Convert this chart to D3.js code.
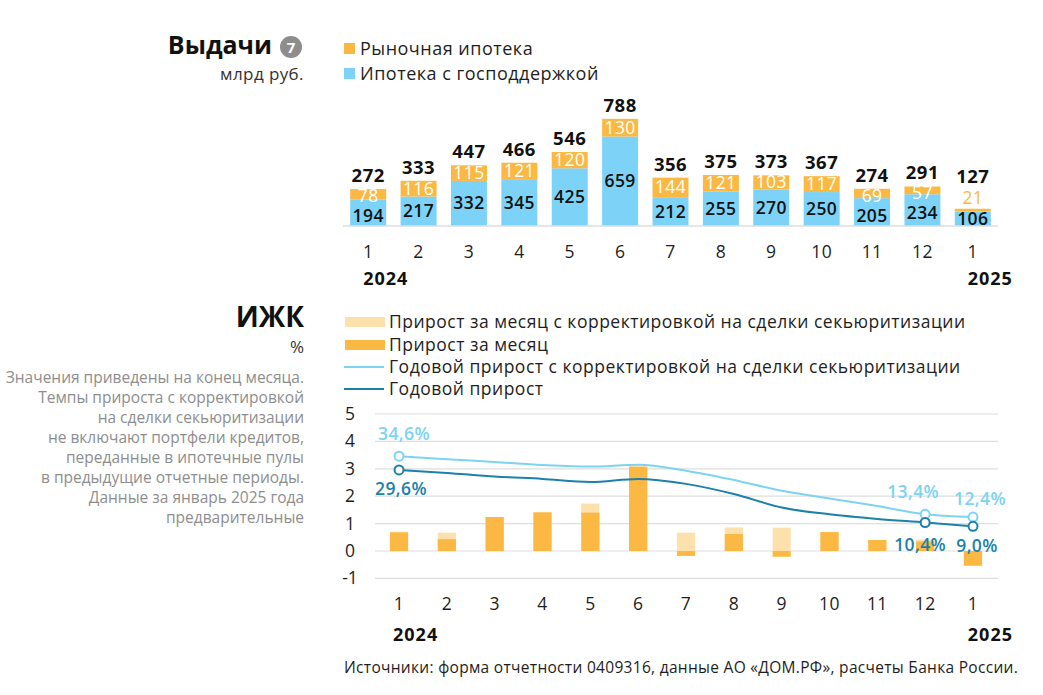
<!DOCTYPE html>
<html><head><meta charset="utf-8">
<script src="https://cdn.jsdelivr.net/npm/d3@7"></script>
<style>
body{margin:0;background:#fff;}
svg{display:block;font-family:"Open Sans","Noto Sans",sans-serif;}
</style></head>
<body><svg id="c" width="1043" height="695"></svg>
<script>
// ---------- DATA ----------
const months = ["1","2","3","4","5","6","7","8","9","10","11","12","1"];
const yearLabels = [{i:0,t:"2024"},{i:12,t:"2025"}];
const stateIssuance  = [194,217,332,345,425,659,212,255,270,250,205,234,106];
const marketIssuance = [78,116,115,121,120,130,144,121,103,117,69,57,21];
const totalIssuance  = [272,333,447,466,546,788,356,375,373,367,274,291,127];

const monthlyGrowth    = [0.68,0.43,1.24,1.41,1.40,3.08,-0.18,0.62,-0.21,0.69,0.40,0.35,-0.54];
const monthlyGrowthAdj = [0.70,0.67,1.24,1.41,1.73,3.08,0.67,0.86,0.85,0.69,0.40,0.42,-0.50];
const annualGrowth     = [29.6,28.5,27.2,26.3,25.2,26.3,24.5,20.8,15.9,13.4,11.7,10.4,9.0];
const annualGrowthAdj  = [34.6,33.5,32.5,31.4,30.8,31.5,29.3,25.9,22.0,19.2,16.4,13.4,12.4];
const yTicks = [-1,0,1,2,3,4,5];

const C = {blue:"#7dd3f7", orange:"#fbb843", orangeL:"#fde1ad", lineL:"#7dd3f2", lineD:"#1b81ab", text:"#1e1e1e", grid:"#dedede", note:"#8e8e8e"};

const svg = d3.select("#c");
const idx = d3.range(months.length);

// ---------- TOP: Выдачи ----------
svg.append("text").attr("x",272).attr("y",54).attr("text-anchor","end")
  .attr("font-size",25).attr("font-weight",700).attr("fill","#111").text("Выдачи");
svg.append("circle").attr("cx",291).attr("cy",47).attr("r",11).attr("fill","#8d8d8d");
svg.append("text").attr("x",291).attr("y",53).attr("text-anchor","middle")
  .attr("font-size",15).attr("font-weight",700).attr("fill","#fff").text("7");
svg.append("text").attr("x",304).attr("y",80).attr("text-anchor","end")
  .attr("font-size",17).attr("letter-spacing",0.4).attr("fill","#333").text("млрд руб.");

const topLeg = [{c:C.orange,t:"Рыночная ипотека",y:49},{c:C.blue,t:"Ипотека с господдержкой",y:74}];
topLeg.forEach(d=>{
  svg.append("rect").attr("x",344).attr("y",d.y-6).attr("width",11).attr("height",11).attr("fill",d.c);
  svg.append("text").attr("x",360).attr("y",d.y+6).attr("font-size",18).attr("letter-spacing",0.5).attr("fill",C.text).text(d.t);
});

const xT = d3.scaleBand().domain(idx).range([343,998]).paddingInner(0.286).paddingOuter(0.143);
const yT = d3.scaleLinear().domain([0,788]).range([226,119]);

const gT = svg.append("g");
gT.selectAll(".bs").data(idx).join("rect")
  .attr("x",i=>xT(i)).attr("width",xT.bandwidth())
  .attr("y",i=>yT(stateIssuance[i])).attr("height",i=>yT(0)-yT(stateIssuance[i])).attr("fill",C.blue);
gT.selectAll(".bm").data(idx).join("rect")
  .attr("x",i=>xT(i)).attr("width",xT.bandwidth())
  .attr("y",i=>yT(stateIssuance[i]+marketIssuance[i]))
  .attr("height",i=>yT(stateIssuance[i])-yT(stateIssuance[i]+marketIssuance[i])).attr("fill",C.orange);
gT.append("line").attr("x1",343).attr("x2",998).attr("y1",yT(0)).attr("y2",yT(0)).attr("stroke",C.grid).attr("stroke-width",1.5);

const cx = i=>xT(i)+xT.bandwidth()/2;
const segH = i=>yT(stateIssuance[i])-yT(stateIssuance[i]+marketIssuance[i]);
const isSmall = i=>segH(i)<5;
const orangeCenter = i=>isSmall(i) ? yT(stateIssuance[i]+marketIssuance[i])-11
                                   : (yT(stateIssuance[i])+yT(stateIssuance[i]+marketIssuance[i]))/2+Math.max(0,(14-segH(i))/2);
const blueCenter = i=>isSmall(i) ? (yT(0)+yT(stateIssuance[i]))/2
                                 : Math.max((yT(0)+yT(stateIssuance[i]))/2, orangeCenter(i)+20);
// blue labels
gT.selectAll(".lb").data(idx).join("text")
  .attr("x",cx).attr("y",i=>blueCenter(i)+6)
  .attr("text-anchor","middle").attr("font-size",17.5).attr("letter-spacing",0.4).attr("font-weight",600).attr("fill","#111")
  .text(i=>stateIssuance[i]);
// orange labels
gT.selectAll(".lo").data(idx).join("text")
  .attr("x",cx).attr("y",i=>orangeCenter(i)+6)
  .attr("text-anchor","middle").attr("font-size",17.5).attr("letter-spacing",0.4)
  .attr("fill",i=>isSmall(i)?C.orange:"#fff")
  .text(i=>marketIssuance[i]);
// totals
gT.selectAll(".lt").data(idx).join("text")
  .attr("x",cx).attr("y",i=> isSmall(i) ? orangeCenter(i)-15 : Math.min(yT(stateIssuance[i]+marketIssuance[i]), orangeCenter(i)-6)-7)
  .attr("text-anchor","middle").attr("font-size",18.5).attr("letter-spacing",0.5).attr("font-weight",700).attr("fill","#111")
  .text(i=>totalIssuance[i]);
// axis labels
gT.selectAll(".xl").data(idx).join("text")
  .attr("x",cx).attr("y",258).attr("text-anchor","middle").attr("font-size",17.5).attr("letter-spacing",0.4).attr("fill",C.text)
  .text(i=>months[i]);
yearLabels.forEach(d=>{
  svg.append("text").attr("x",d.i===0?cx(d.i)-5:cx(d.i)+40).attr("y",285)
   .attr("text-anchor",d.i===0?"start":"end").attr("font-size",18).attr("letter-spacing",1).attr("font-weight",700).attr("fill","#111").text(d.t);
});

// ---------- BOTTOM: ИЖК ----------
svg.append("text").attr("x",304).attr("y",327).attr("text-anchor","end")
  .attr("font-size",28).attr("font-weight",700).attr("fill","#111").text("ИЖК");
svg.append("text").attr("x",304).attr("y",353).attr("text-anchor","end")
  .attr("font-size",17).attr("fill","#333").text("%");
const noteLines = ["Значения приведены на конец месяца.","Темпы прироста с корректировкой","на сделки секьюритизации","не включают портфели кредитов,","переданные в ипотечные пулы","в предыдущие отчетные периоды.","Данные за январь 2025 года","предварительные"];
noteLines.forEach((t,k)=>{
  svg.append("text").attr("x",304).attr("y",383+k*20).attr("text-anchor","end")
   .attr("font-size",15.5).attr("fill",C.note).text(t);
});

const legB = [
  {type:"rect",c:C.orangeL,t:"Прирост за месяц с корректировкой на сделки секьюритизации",y:322},
  {type:"rect",c:C.orange,t:"Прирост за месяц",y:345},
  {type:"line",c:C.lineL,t:"Годовой прирост с корректировкой на сделки секьюритизации",y:367},
  {type:"line",c:C.lineD,t:"Годовой прирост",y:389}];
legB.forEach(d=>{
  if(d.type==="rect") svg.append("rect").attr("x",345).attr("y",d.y-5).attr("width",40).attr("height",10).attr("fill",d.c);
  else svg.append("line").attr("x1",344).attr("x2",384).attr("y1",d.y).attr("y2",d.y).attr("stroke",d.c).attr("stroke-width",2);
  svg.append("text").attr("x",389).attr("y",d.y+6).attr("font-size",17.5).attr("letter-spacing",0.5).attr("fill",C.text).text(d.t);
});

const xB = d3.scaleBand().domain(idx).range([375.1,996.9]).paddingInner(0.62).paddingOuter(0.31);
const yB = d3.scaleLinear().domain([-1,5]).range([578.4,414]);
const bx = i=>xB(i)+xB.bandwidth()/2;
const gB = svg.append("g");
gB.selectAll(".gl").data(yTicks).join("line")
  .attr("x1",375).attr("x2",998).attr("y1",d=>yB(d)).attr("y2",d=>yB(d)).attr("stroke",C.grid).attr("stroke-width",1.2);
gB.selectAll(".yl").data(yTicks).join("text")
  .attr("x",350).attr("y",d=>yB(d)+6).attr("text-anchor","middle").attr("font-size",17.5).attr("fill",C.text).text(d=>d);

gB.selectAll(".ba").data(idx).join("rect")
  .attr("x",i=>xB(i)).attr("width",xB.bandwidth())
  .attr("y",i=>yB(Math.max(0,monthlyGrowthAdj[i]))).attr("height",i=>Math.abs(yB(monthlyGrowthAdj[i])-yB(0)))
  .attr("fill",C.orangeL);
gB.selectAll(".bd").data(idx).join("rect")
  .attr("x",i=>xB(i)).attr("width",xB.bandwidth())
  .attr("y",i=>yB(Math.max(0,monthlyGrowth[i]))).attr("height",i=>Math.abs(yB(monthlyGrowth[i])-yB(0)))
  .attr("fill",C.orange);

const line = d3.line().x((d,i)=>bx(i)).y(d=>yB(d/10)).curve(d3.curveMonotoneX);
gB.append("path").datum(annualGrowthAdj).attr("d",line).attr("fill","none").attr("stroke",C.lineL).attr("stroke-width",2);
gB.append("path").datum(annualGrowth).attr("d",line).attr("fill","none").attr("stroke",C.lineD).attr("stroke-width",2);

const marked = [0,11,12];
const fmt = v=>v.toFixed(1).replace(".",",")+"%";
[[annualGrowthAdj,C.lineL,[[5,-16],[-12,-16],[7,-12]]],[annualGrowth,C.lineD,[[2,25],[-5,28],[4,26]]]].forEach(([arr,col,offs])=>{
  marked.forEach((i,k)=>{
    gB.append("circle").attr("cx",bx(i)).attr("cy",yB(arr[i]/10)).attr("r",4.5)
      .attr("fill","#fff").attr("stroke",col).attr("stroke-width",2);
    gB.append("text").attr("x",bx(i)+offs[k][0]).attr("y",yB(arr[i]/10)+offs[k][1])
      .attr("text-anchor","middle").attr("font-size",17.5).attr("letter-spacing",0.4).attr("font-weight",600).attr("fill",col).text(fmt(arr[i]));
  });
});

gB.selectAll(".xb").data(idx).join("text")
  .attr("x",bx).attr("y",610).attr("text-anchor","middle").attr("font-size",17.5).attr("letter-spacing",0.4).attr("fill",C.text).text(i=>months[i]);
yearLabels.forEach(d=>{
  svg.append("text").attr("x",d.i===0?bx(d.i)-6:bx(d.i)+40).attr("y",641)
   .attr("text-anchor",d.i===0?"start":"end").attr("font-size",18).attr("letter-spacing",1).attr("font-weight",700).attr("fill","#111").text(d.t);
});

svg.append("text").attr("x",344).attr("y",673).attr("font-size",15.5).attr("letter-spacing",0.3).attr("fill",C.text)
  .text("Источники: форма отчетности 0409316, данные АО «ДОМ.РФ», расчеты Банка России.");
</script></body></html>
